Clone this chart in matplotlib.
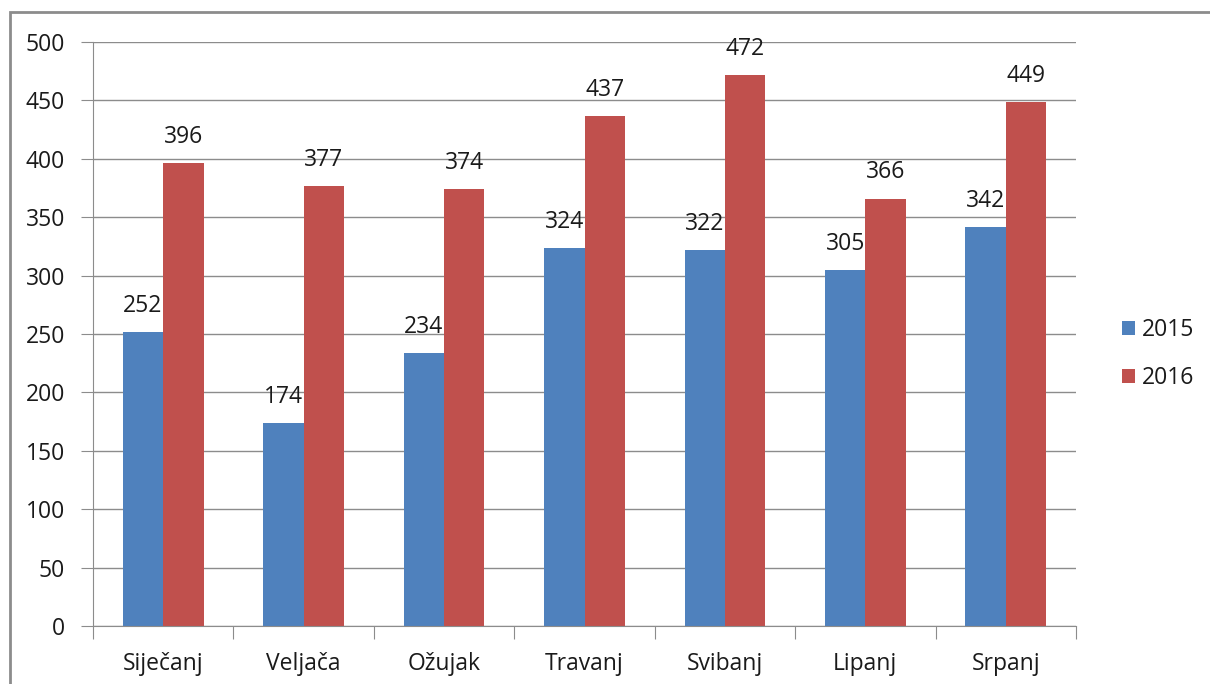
import matplotlib.pyplot as plt
from matplotlib.patches import Rectangle
import numpy as np

months = ["Siječanj", "Veljača", "Ožujak", "Travanj", "Svibanj", "Lipanj", "Srpanj"]
values_2015 = [252, 174, 234, 324, 322, 305, 342]
values_2016 = [396, 377, 374, 437, 472, 366, 449]

blue = "#4f81bd"
red = "#c0504d"

plt.rcParams["font.family"] = ["Open Sans", "DejaVu Sans"]
fs = 16.5

W, H = 1210, 684
fig = plt.figure(figsize=(W / 100, H / 100), dpi=100)

# plot area in pixels: left 93, right 1076, top 42, bottom 626
ax = fig.add_axes([93 / W, 1 - 626 / H, (1076 - 93) / W, (626 - 42) / H])

x = np.arange(len(months))
bw = 0.2875

b1 = ax.bar(x - bw / 2, values_2015, bw, color=blue, label="2015")
b2 = ax.bar(x + bw / 2, values_2016, bw, color=red, label="2016")

for bars, vals in [(b1, values_2015), (b2, values_2016)]:
    for bar, v in zip(bars, vals):
        ax.text(bar.get_x() + bar.get_width() / 2, v + 12, str(v),
                ha="center", va="bottom", fontsize=fs, color="#1a1a1a")

ax.set_xlim(-0.5, len(months) - 0.5)
ax.set_ylim(0, 500)
ax.set_yticks(range(0, 501, 50))
ax.yaxis.grid(True, color="#8c8c8c", linewidth=1)
ax.set_axisbelow(True)

ax.set_xticks(np.arange(-0.5, len(months), 1))
ax.set_xticklabels([])
ax.set_xticks(x, minor=True)
ax.set_xticklabels(months, minor=True)
ax.tick_params(axis="x", which="minor", length=0, labelsize=fs, pad=19,
               labelcolor="#1a1a1a")
ax.tick_params(axis="x", which="major", length=9, direction="out", color="#8c8c8c")
ax.tick_params(axis="y", length=9, direction="out", color="#8c8c8c",
               labelsize=fs, pad=11, labelcolor="#1a1a1a")

for s in ["top", "right"]:
    ax.spines[s].set_visible(False)
ax.spines["left"].set_color("#8c8c8c")
ax.spines["bottom"].set_color("#8c8c8c")

leg = fig.legend(handles=[b1, b2], labels=["2015", "2016"],
                 loc="center left", bbox_to_anchor=(1101 / W, 1 - 354 / H),
                 frameon=False, fontsize=fs, handlelength=0.6, handleheight=0.6,
                 labelspacing=1.05, handletextpad=0.3)
for t in leg.get_texts():
    t.set_color("#1a1a1a")

fig.patches.append(Rectangle((10 / W, -0.05), 1.1, 1 - 12 / H + 0.05,
                             transform=fig.transFigure, fill=False,
                             edgecolor="#8c8c8c", linewidth=2))

fig.savefig("out.png", dpi=100)
